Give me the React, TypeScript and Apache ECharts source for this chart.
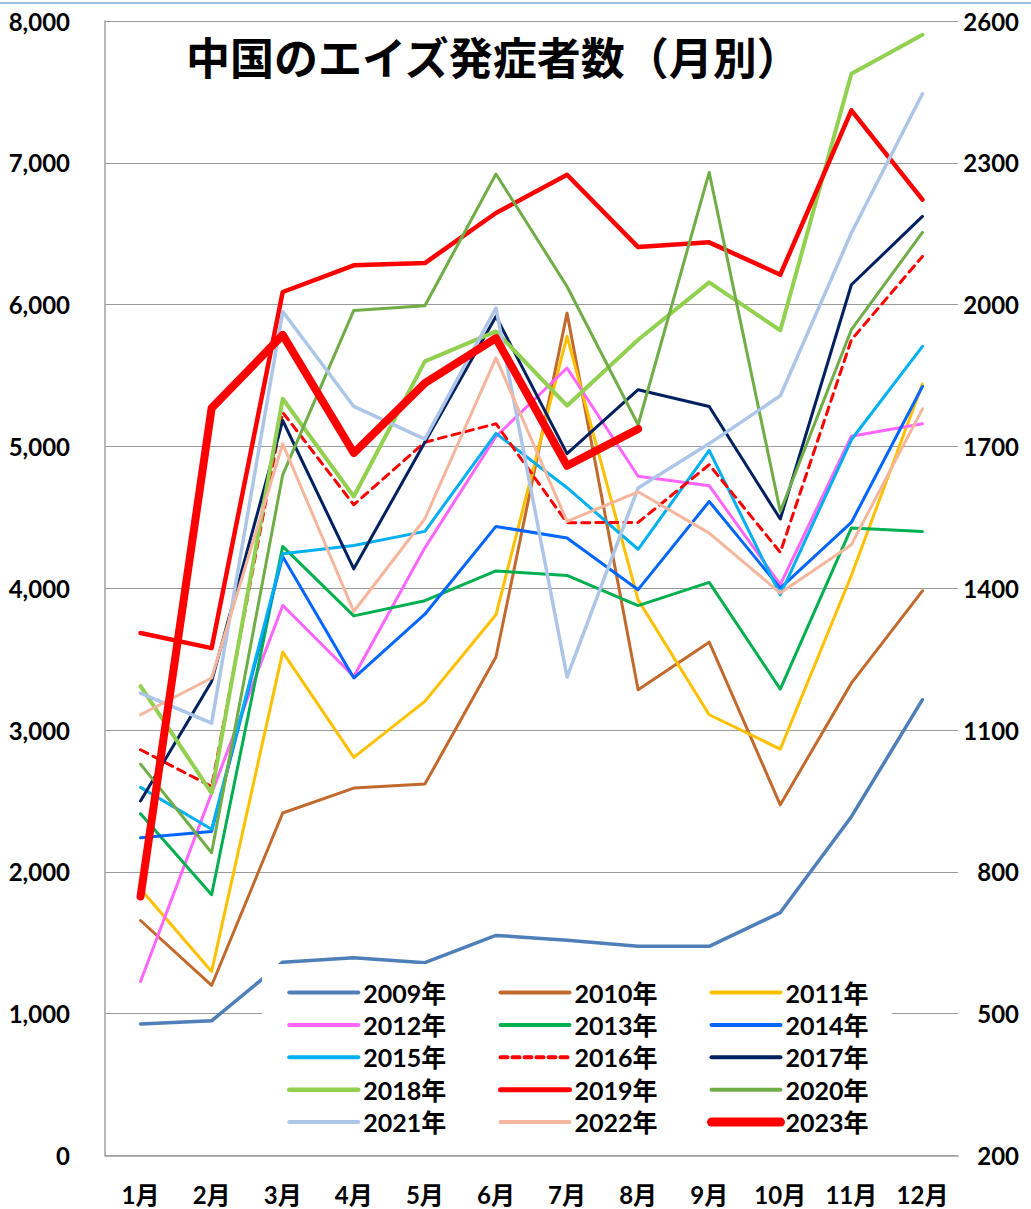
import React, { useEffect, useRef } from "react";
import * as echarts from "echarts";

const months = ["1月", "2月", "3月", "4月", "5月", "6月", "7月", "8月", "9月", "10月", "11月", "12月"];
const leftTicks = { min: 0, max: 8000, interval: 1000 };
const rightTicks = { min: 200, max: 2600, interval: 300 };

const d2009 = [927, 950, 1363, 1395, 1360, 1552, 1518, 1475, 1475, 1713, 2389, 3214];
const d2010 = [1657, 1199, 2415, 2591, 2619, 3515, 5940, 3284, 3620, 2473, 3331, 3982];
const d2011 = [1879, 1298, 3550, 2807, 3202, 3813, 5776, 3918, 3108, 2866, 4090, 5440];
const d2012 = [1227, 2555, 3879, 3378, 4285, 5070, 5553, 4790, 4723, 4025, 5072, 5160];
const d2013 = [2410, 1839, 4295, 3805, 3912, 4122, 4090, 3877, 4041, 3289, 4425, 4401];
const d2014 = [2240, 2285, 4224, 3367, 3817, 4436, 4354, 3990, 4612, 4001, 4464, 5423];
const d2015 = [2596, 2300, 4243, 4302, 4401, 5092, 4709, 4275, 4972, 3954, 5047, 5705];
const d2016 = [2861, 2602, 5240, 4589, 5030, 5160, 4462, 4464, 4871, 4253, 5752, 6340];
const d2017 = [2500, 3343, 5183, 4137, 5030, 5917, 4949, 5400, 5282, 4488, 6140, 6622];
const d2018 = [3310, 2556, 5336, 4647, 5600, 5811, 5287, 5752, 6157, 5818, 7628, 7903];
const d2019 = [3684, 3578, 6089, 6277, 6293, 6646, 6916, 6406, 6439, 6211, 7370, 6740];
const d2020 = [2760, 2135, 4800, 5959, 5992, 6921, 6128, 5153, 6932, 4541, 5823, 6509];
const d2021 = [3261, 3049, 5952, 5282, 5052, 5976, 3374, 4707, 5020, 5357, 6505, 7487];
const d2022 = [3108, 3367, 5019, 3836, 4490, 5625, 4471, 4680, 4389, 3966, 4307, 5265];
const d2023 = [748, 1781, 1936, 1686, 1834, 1929, 1659, 1737];

const yearNames = ["2009年", "2010年", "2011年", "2012年", "2013年", "2014年", "2015年", "2016年", "2017年", "2018年", "2019年", "2020年", "2021年", "2022年", "2023年"];
const yearData = [d2009, d2010, d2011, d2012, d2013, d2014, d2015, d2016, d2017, d2018, d2019, d2020, d2021, d2022, d2023];
const yearColors = ["#4F7FB8", "#C26A2E", "#FFC000", "#FF66FF", "#00B050", "#0066FF", "#00B0F0", "#FF0000", "#002060", "#92D050", "#FF0000", "#70AD47", "#ADC6E8", "#F4B69C", "#FF0000"];
const yearWidths = [3.5, 3, 3, 3, 3, 3, 3, 3, 3, 4, 4.5, 3, 3.5, 3, 8];
const legendWidths = [4, 4, 4, 4, 4, 4, 4, 4, 4, 4.5, 5, 4, 4, 4, 9];

const FONT = 'Lato, "Noto Sans CJK JP", sans-serif';

export default function App() {
  const ref = useRef<HTMLDivElement>(null);
  useEffect(() => {
    document.body.style.margin = "0";
    const chart = echarts.init(ref.current!, null, { renderer: "svg" });
    const series = yearNames.map((name, i) => ({
      name,
      type: "line",
      data: yearData[i],
      yAxisIndex: i === 14 ? 1 : 0,
      symbol: "none",
      showSymbol: false,
      lineStyle: {
        color: yearColors[i],
        width: yearWidths[i],
        type: i === 7 ? [8, 6] : "solid",
        cap: "round",
        join: "round",
      },
      itemStyle: { color: yearColors[i] },
      z: 2,
    }));
    const legendItem = (name: string) => {
      const i = yearNames.indexOf(name);
      return {
        name,
        itemStyle: { opacity: 0, color: "rgba(0,0,0,0)", borderWidth: 0 },
        lineStyle: {
          color: yearColors[i],
          width: legendWidths[i],
          type: i === 7 ? [7, 5] : "solid",
          cap: "round",
        },
      };
    };
    const legendBase = {
      orient: "vertical",
      top: 980,
      itemWidth: 69,
      itemHeight: 14,
      itemGap: 7.4,
      padding: 0,
      selectedMode: false,
      itemStyle: { opacity: 0 },
      textStyle: { fontSize: 25, lineHeight: 25, fontWeight: "bold", color: "#000", fontFamily: FONT },
      z: 5,
    };
    chart.setOption({
      animation: false,
      backgroundColor: "#fff",
      textStyle: { fontFamily: FONT },
      grid: { left: 105, right: 73, top: 21, bottom: 53.5 },
      xAxis: {
        type: "category",
        data: months,
        boundaryGap: true,
        axisLine: { lineStyle: { color: "#A0A0A0", width: 1.5 } },
        axisTick: { show: false },
        axisLabel: { margin: 27, fontSize: 24, fontWeight: "bold", color: "#000", fontFamily: FONT },
      },
      yAxis: [
        {
          type: "value",
          ...leftTicks,
          axisLine: { show: true, lineStyle: { color: "#A0A0A0", width: 1.5 } },
          axisTick: { show: false },
          splitLine: { lineStyle: { color: "#9A9A9A", width: 1.2 } },
          axisLabel: { margin: 35, fontSize: 24, fontWeight: "bold", color: "#000", fontFamily: FONT },
        },
        {
          type: "value",
          position: "right",
          ...rightTicks,
          axisLine: { show: false },
          axisTick: { show: false },
          splitLine: { show: false },
          axisLabel: {
            margin: 61,
            align: "right",
            fontSize: 24,
            fontWeight: "bold",
            color: "#000",
            fontFamily: FONT,
            formatter: (v: number) => String(v),
          },
        },
      ],
      legend: [
        { ...legendBase, left: 287, data: ["2009年", "2012年", "2015年", "2018年", "2021年"].map(legendItem) },
        { ...legendBase, left: 498, data: ["2010年", "2013年", "2016年", "2019年", "2022年"].map(legendItem) },
        { ...legendBase, left: 707, data: ["2011年", "2014年", "2017年", "2020年", "2023年"].map(legendItem) },
      ],
      graphic: [
        {
          type: "line",
          shape: { x1: 0, y1: 3, x2: 1031, y2: 3 },
          style: { stroke: "#7FA7D9", lineWidth: 1.5 },
          z: 10,
        },
        {
          type: "rect",
          shape: { x: 262, y: 964, width: 630, height: 178 },
          style: { fill: "#FFFFFF" },
          z: 3,
        },
        {
          type: "text",
          x: 186,
          y: 56,
          style: {
            text: "中国のエイズ発症者数（月別）",
            font: 'bold 44px "Noto Sans CJK JP", sans-serif',
            fill: "#000",
            verticalAlign: "middle",
          },
          z: 10,
        },
      ],
      series,
    });
    return () => chart.dispose();
  }, []);
  return <div ref={ref} style={{ width: 1031, height: 1209 }} />;
}
